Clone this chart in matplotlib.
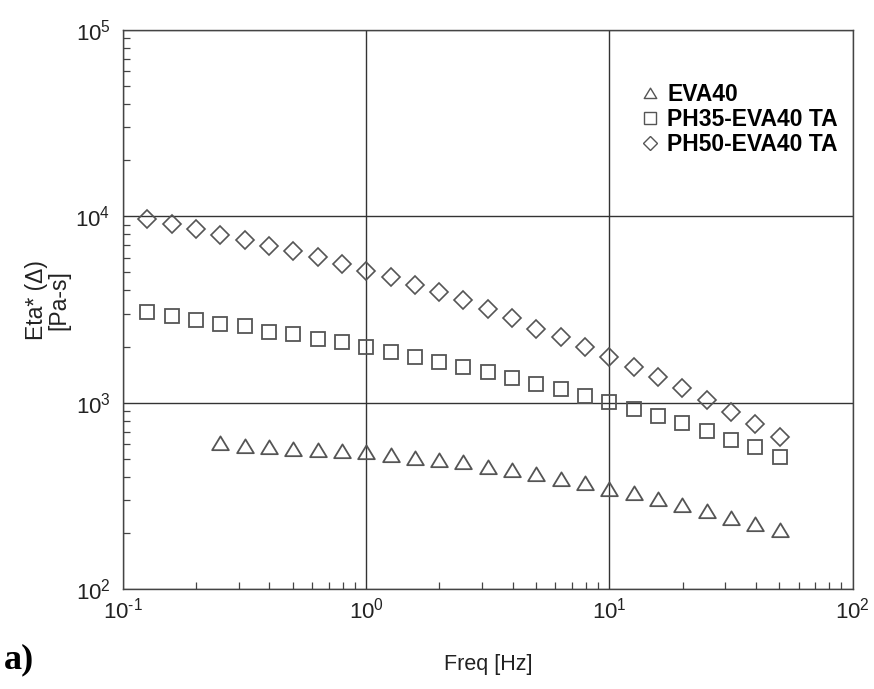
import matplotlib
matplotlib.use("Agg")
import matplotlib.pyplot as plt
from matplotlib.ticker import LogLocator, NullFormatter, FixedLocator, FixedFormatter
from matplotlib.lines import Line2D
from matplotlib.path import Path

freq_all = [0.1259, 0.1585, 0.1995, 0.2512, 0.3162, 0.3981, 0.5012, 0.631, 0.7943,
            1.0, 1.259, 1.585, 1.995, 2.512, 3.162, 3.981, 5.012, 6.31, 7.943,
            10.0, 12.59, 15.85, 19.95, 25.12, 31.62, 39.81, 50.12]
freq_eva = freq_all[3:]

eta_eva40 = [610, 587, 575, 561, 558, 552, 541, 523, 506, 495, 478, 453, 435, 414,
             389, 370, 346, 328, 304, 284, 263, 242, 223, 207]
eta_ph35 = [3050, 2915, 2775, 2650, 2570, 2400, 2325, 2185, 2115, 1980, 1870, 1765,
            1660, 1560, 1465, 1360, 1255, 1180, 1090, 1007, 927, 851, 774, 701, 630,
            575, 508]
eta_ph50 = [9640, 9100, 8510, 7970, 7460, 6930, 6490, 6030, 5550, 5110, 4710, 4280,
            3910, 3550, 3180, 2830, 2490, 2250, 1990, 1760, 1550, 1380, 1200, 1030,
            893, 765, 656]

series_labels = ["EVA40", "PH35-EVA40 TA", "PH50-EVA40 TA"]
x_ticks = [0.1, 1, 10, 100]
x_ticklabels = ['$10^{\\text{-}1}$', '$10^0$', '$10^1$', '$10^2$']
y_ticks = [100, 1000, 10000, 100000]
y_ticklabels = ['$10^2$', '$10^3$', '$10^4$', '$10^5$']

plt.rcParams['font.family'] = ['Liberation Sans', 'DejaVu Sans']
plt.rcParams['mathtext.fontset'] = 'custom'
plt.rcParams['mathtext.rm'] = 'Liberation Sans'
plt.rcParams['mathtext.it'] = 'Liberation Sans'
plt.rcParams['mathtext.default'] = 'regular'

tri = Path([(-1.0, -0.8), (1.0, -0.8), (0.0, 0.85), (-1.0, -0.8)],
           [Path.MOVETO, Path.LINETO, Path.LINETO, Path.CLOSEPOLY])

fig = plt.figure(figsize=(8.74, 6.89), dpi=100)
ax = fig.add_axes([0.1407, 0.1451, 0.8348, 0.8114])

mcol = '#555555'
ax.plot(freq_eva, eta_eva40, linestyle='none', marker=tri, markersize=12,
        markerfacecolor='none', markeredgecolor=mcol, markeredgewidth=1.3)
ax.plot(freq_all, eta_ph35, linestyle='none', marker='s', markersize=10,
        markerfacecolor='none', markeredgecolor=mcol, markeredgewidth=1.3)
ax.plot(freq_all, eta_ph50, linestyle='none', marker='D', markersize=9,
        markerfacecolor='none', markeredgecolor=mcol, markeredgewidth=1.2)

ax.set_xscale('log')
ax.set_yscale('log')
ax.set_xlim(0.1, 100)
ax.set_ylim(100, 100000)

ax.xaxis.set_major_locator(FixedLocator(x_ticks))
ax.xaxis.set_major_formatter(FixedFormatter(x_ticklabels))
ax.yaxis.set_major_locator(FixedLocator(y_ticks))
ax.yaxis.set_major_formatter(FixedFormatter(y_ticklabels))

ax.grid(True, which='major', color='#333333', linewidth=1.0)
ax.xaxis.set_minor_locator(LogLocator(base=10, subs=range(2, 10)))
ax.yaxis.set_minor_locator(LogLocator(base=10, subs=range(2, 10)))
ax.xaxis.set_minor_formatter(NullFormatter())
ax.yaxis.set_minor_formatter(NullFormatter())
ax.tick_params(which='major', direction='in', length=0, labelsize=16,
               colors='#222222')
ax.tick_params(axis='x', which='major', pad=6)
ax.tick_params(axis='y', which='major', pad=9)
ax.tick_params(which='minor', direction='in', length=5, width=0.9, color='#444444')
for s in ax.spines.values():
    s.set_color('#444444')
    s.set_linewidth(1.0)

ax.set_xlabel('Freq [Hz]', fontsize=15.5, labelpad=22, color='#222222')
ax.set_ylabel('Eta* (Δ)\n[Pa-s]', fontsize=16.5, color='#222222',
              linespacing=1.0, va='center', ha='center')
ax.yaxis.set_label_coords(-0.103, 0.517)

handles = [
    Line2D([], [], linestyle='none', marker=tri, markersize=9, markerfacecolor='none',
           markeredgecolor=mcol, markeredgewidth=1.0),
    Line2D([], [], linestyle='none', marker='s', markersize=8, markerfacecolor='none',
           markeredgecolor=mcol, markeredgewidth=1.0),
    Line2D([], [], linestyle='none', marker='D', markersize=7, markerfacecolor='none',
           markeredgecolor=mcol, markeredgewidth=1.0),
]
leg = ax.legend(handles, series_labels, loc='upper right', bbox_to_anchor=(1.008, 0.942),
                frameon=False, prop={'weight': 'bold', 'size': 16.5},
                handlelength=0.8, handletextpad=0.35, labelspacing=0.08)

fig.text(0.005, 0.042, 'a)', fontsize=26, fontweight='bold',
         family='Liberation Serif', ha='left', va='center')

fig.savefig('out.png', dpi=100, facecolor='white')
